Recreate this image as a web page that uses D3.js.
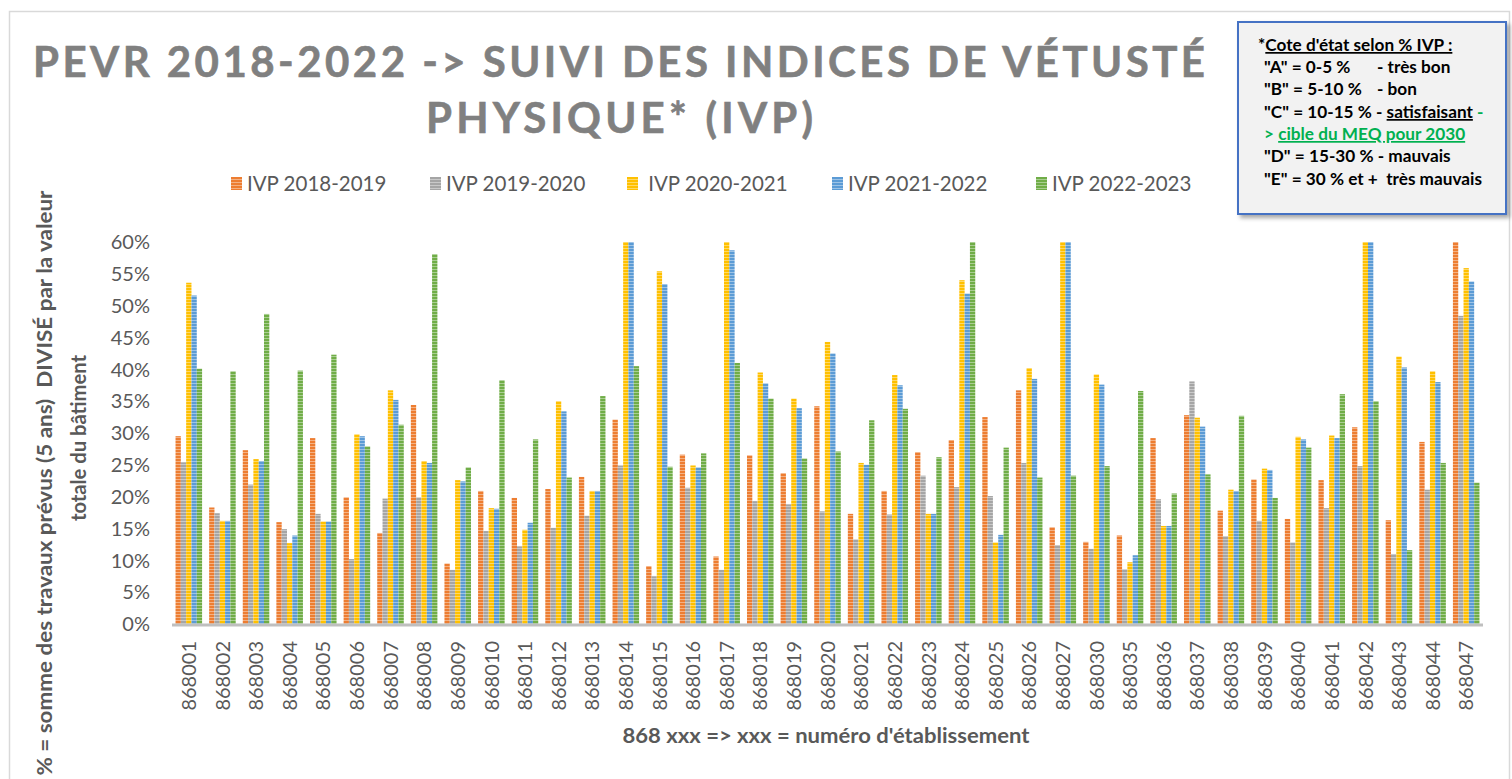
<!DOCTYPE html>
<html>
<head>
<meta charset="utf-8">
<script src="https://cdn.jsdelivr.net/npm/d3@7"></script>
<style>
  body { margin: 0; background: #fff; }
  svg { display: block; }
</style>
</head>
<body>
<div id="chart"></div>
<script>
// Data ----------------------------------------------
const categories = [
  "868001", "868002", "868003", "868004", "868005", "868006", "868007", "868008",
  "868009", "868010", "868011", "868012", "868013", "868014", "868015", "868016",
  "868017", "868018", "868019", "868020", "868021", "868022", "868023", "868024",
  "868025", "868026", "868027", "868030", "868035", "868036", "868037", "868038",
  "868039", "868040", "868041", "868042", "868043", "868044", "868047"
];

const seriesNames = ["IVP 2018-2019", "IVP 2019-2020", "\u00a0IVP 2020-2021", "IVP 2021-2022", "IVP 2022-2023"];

// values in % (bars above 60 % are clipped by the axis)
const ivp2018 = [29.5, 18.3, 27.3, 16.0, 29.2, 19.9, 14.3, 34.4, 9.5, 20.9, 19.8, 21.2, 23.1, 32.1, 9.1, 26.6,
  10.6, 26.5, 23.7, 34.2, 17.3, 20.9, 27.0, 28.9, 32.5, 36.7, 15.2, 12.9, 13.9, 29.2, 32.8, 17.8,
  22.7, 16.5, 22.6, 30.9, 16.3, 28.6, 60];
const ivp2019 = [25.4, 17.4, 21.9, 14.9, 17.3, 10.2, 19.7, 19.9, 8.5, 14.6, 12.2, 15.1, 17.0, 24.9, 7.5, 21.4,
  8.5, 19.3, 18.8, 17.7, 13.3, 17.2, 23.3, 21.5, 20.1, 25.3, 12.4, 11.8, 8.6, 19.6, 38.1, 13.8,
  16.2, 12.8, 18.2, 24.8, 11.0, 21.1, 48.4];
const ivp2020 = [53.6, 16.2, 25.9, 12.7, 16.1, 29.8, 36.7, 25.6, 22.6, 18.2, 14.8, 35.0, 20.9, 60, 55.4, 24.9,
  60, 39.5, 35.4, 44.3, 25.3, 39.1, 17.3, 54.0, 12.8, 40.2, 60, 39.2, 9.7, 15.4, 32.4, 21.1,
  24.4, 29.4, 29.6, 60, 42.0, 39.7, 55.9];
const ivp2021 = [51.6, 16.2, 25.6, 13.9, 16.1, 29.5, 35.2, 25.3, 22.4, 18.1, 15.9, 33.4, 20.9, 60, 53.4, 24.6,
  58.7, 37.8, 33.9, 42.5, 25.0, 37.5, 17.3, 51.9, 14.0, 38.5, 60, 37.6, 10.8, 15.4, 31.0, 20.9,
  24.2, 29.0, 29.2, 60, 40.3, 38.0, 53.8];
const ivp2022 = [40.1, 39.7, 48.7, 39.8, 42.3, 27.9, 31.3, 58.1, 24.6, 38.3, 29.0, 23.0, 35.8, 40.5, 24.7, 26.8,
  41.0, 35.4, 26.0, 27.1, 32.0, 33.8, 26.2, 60, 27.7, 23.0, 23.3, 24.8, 36.6, 20.5, 23.5, 32.7,
  19.8, 27.7, 36.1, 35.0, 11.6, 25.3, 22.2];

const yTicks = [0, 5, 10, 15, 20, 25, 30, 35, 40, 45, 50, 55, 60];

// Constants ----------------------------------------------
const width = 1512;
const height = 779;
const plot = {left: 172, right: 1483, top: 242, bottom: 624};
const colors = ["#ED7D31", "#A5A5A5", "#FFC000", "#5B9BD5", "#70AD47"];
const textColor = "#595959";
const seriesData = [ivp2018, ivp2019, ivp2020, ivp2021, ivp2022];

// Scale functions ----------------------------------------------
const xScale = d3.scaleBand()
  .domain(categories)
  .range([plot.left, plot.right])
  .paddingInner(0.21)
  .paddingOuter(0.105);

const xSub = d3.scaleBand()
  .domain(d3.range(seriesData.length))
  .range([0, xScale.bandwidth()]);

const yScale = d3.scaleLinear()
  .domain([0, 60])
  .range([plot.bottom, plot.top]);

// SVG ----------------------------------------------
const svg = d3.select("#chart")
  .append("svg")
  .attr("width", width)
  .attr("height", height);

// striped fills like the excel pattern
const defs = svg.append("defs");
colors.forEach((c, i) => {
  const p = defs.append("pattern")
    .attr("id", `pat-${i}`)
    .attr("patternUnits", "userSpaceOnUse")
    .attr("width", 4)
    .attr("height", 3);
  p.append("rect").attr("width", 4).attr("height", 3).attr("fill", c);
  p.append("rect").attr("y", 2).attr("width", 4).attr("height", 1)
    .attr("fill", "#fff").attr("opacity", 0.4);
});
const shadow = defs.append("filter").attr("id", "shadow")
  .attr("x", "-10%").attr("y", "-10%").attr("width", "130%").attr("height", "130%");
shadow.append("feDropShadow")
  .attr("dx", 3).attr("dy", 3).attr("stdDeviation", 2)
  .attr("flood-color", "#000").attr("flood-opacity", 0.35);

// chart area border
svg.append("rect")
  .attr("x", 9.5).attr("y", 11.5)
  .attr("width", 1500).attr("height", 800)
  .attr("fill", "none")
  .attr("stroke", "#D9D9D9")
  .attr("stroke-width", 1.5);

// Title
const title = svg.append("g")
  .attr("font-family", "Lato, 'Open Sans', sans-serif")
  .attr("font-weight", "bold")
  .attr("font-size", 42)
  .attr("fill", "#808080")
  .attr("stroke", "#808080")
  .attr("stroke-width", 0.6);
title.append("text")
  .attr("x", 33).attr("y", 77)
  .attr("textLength", 1172)
  .attr("lengthAdjust", "spacing")
  .text("PEVR 2018-2022 -> SUIVI DES INDICES DE VÉTUSTÉ");
title.append("text")
  .attr("x", 426).attr("y", 133)
  .attr("textLength", 387)
  .attr("lengthAdjust", "spacing")
  .text("PHYSIQUE* (IVP)");

// Legend
const legendX = [231, 430, 627, 832, 1036];
const legend = svg.append("g")
  .attr("font-family", "Lato, sans-serif")
  .attr("font-size", 20.5)
  .attr("fill", textColor);
seriesNames.forEach((name, i) => {
  legend.append("rect")
    .attr("x", legendX[i]).attr("y", 177)
    .attr("width", 11).attr("height", 13)
    .attr("fill", `url(#pat-${i})`);
  legend.append("text")
    .attr("x", legendX[i] + 16).attr("y", 191)
    .text(name);
});

// Bars
const groups = svg.append("g")
  .selectAll("g")
  .data(categories)
  .join("g")
  .attr("transform", d => `translate(${xScale(d)},0)`);

groups.selectAll("rect")
  .data((d, ci) => seriesData.map((s, si) => ({si, v: Math.min(s[ci], 60)})))
  .join("rect")
  .attr("x", d => xSub(d.si))
  .attr("width", xSub.bandwidth())
  .attr("y", d => yScale(d.v))
  .attr("height", d => yScale(0) - yScale(d.v))
  .attr("fill", d => `url(#pat-${d.si})`);

// X axis line
svg.append("line")
  .attr("x1", plot.left).attr("x2", plot.right)
  .attr("y1", plot.bottom + 1).attr("y2", plot.bottom + 1)
  .attr("stroke", "#BFBFBF")
  .attr("stroke-width", 3);

// X tick labels
svg.append("g")
  .attr("font-family", "Lato, sans-serif")
  .attr("font-size", 20)
  .attr("fill", textColor)
  .selectAll("text")
  .data(categories)
  .join("text")
  .attr("transform", d => `translate(${xScale(d) + xScale.bandwidth() / 2},641) rotate(-90)`)
  .attr("text-anchor", "end")
  .attr("dy", "0.36em")
  .text(d => d);

// Y tick labels
svg.append("g")
  .attr("font-family", "Lato, sans-serif")
  .attr("font-size", 20)
  .attr("fill", textColor)
  .selectAll("text")
  .data(yTicks)
  .join("text")
  .attr("x", 150)
  .attr("y", d => yScale(d))
  .attr("dy", "0.36em")
  .attr("text-anchor", "end")
  .text(d => d + "%");

// Axis titles
const axisTitle = svg.append("g")
  .attr("font-family", "Lato, sans-serif")
  .attr("font-weight", "bold")
  .attr("font-size", 20)
  .attr("fill", textColor);
axisTitle.append("text")
  .attr("transform", "translate(52,483) rotate(-90)")
  .attr("text-anchor", "middle")
  .attr("textLength", 585)
  .attr("lengthAdjust", "spacingAndGlyphs")
  .text("% = somme des travaux prévus (5 ans) \u00a0DIVISÉ par la valeur");
axisTitle.append("text")
  .attr("transform", "translate(86,438) rotate(-90)")
  .attr("text-anchor", "middle")
  .attr("textLength", 166)
  .attr("lengthAdjust", "spacingAndGlyphs")
  .text("totale du bâtiment");
axisTitle.append("text")
  .attr("x", 826).attr("y", 743)
  .attr("text-anchor", "middle")
  .attr("textLength", 407)
  .attr("lengthAdjust", "spacingAndGlyphs")
  .text("868 xxx => xxx = numéro d'établissement");

// Note box
const box = svg.append("g");
box.append("rect")
  .attr("x", 1238).attr("y", 22)
  .attr("width", 268).attr("height", 192)
  .attr("fill", "#F2F2F2")
  .attr("stroke", "#4472C4")
  .attr("stroke-width", 2)
  .attr("filter", "url(#shadow)");

const note = box.append("g")
  .attr("font-family", "Lato, sans-serif")
  .attr("font-weight", "bold")
  .attr("font-size", 17.2)
  .attr("fill", "#000");

const green = "#00B050";
const l1 = note.append("text").attr("x", 1258).attr("y", 51);
l1.append("tspan").text("*");
l1.append("tspan").attr("text-decoration", "underline").text("Cote d'état selon % IVP :");

const l2 = note.append("text").attr("y", 73);
l2.append("tspan").attr("x", 1264).text("\"A\" = 0-5 %");
l2.append("tspan").attr("x", 1377).text("- très bon");

const l3 = note.append("text").attr("y", 95);
l3.append("tspan").attr("x", 1264).text("\"B\" = 5-10 %");
l3.append("tspan").attr("x", 1377).text("- bon");

const l4 = note.append("text").attr("x", 1264).attr("y", 118);
l4.append("tspan").text("\"C\" = 10-15 % - ");
l4.append("tspan").attr("text-decoration", "underline").text("satisfaisant");
l4.append("tspan").attr("fill", green).text(" -");

const l5 = note.append("text").attr("x", 1264).attr("y", 140).attr("fill", green);
l5.append("tspan").text("> ");
l5.append("tspan").attr("text-decoration", "underline").text("cible du MEQ pour 2030");

note.append("text").attr("x", 1264).attr("y", 162).text("\"D\" = 15-30 % - mauvais");
note.append("text").attr("x", 1264).attr("y", 185).text("\"E\" = 30 % et + \u00a0très mauvais");
</script>
</body>
</html>
